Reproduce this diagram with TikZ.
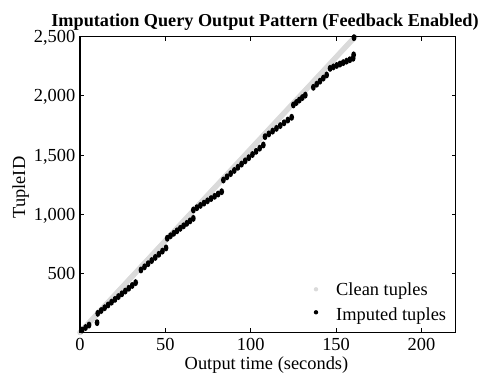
\documentclass[tikz,border=0pt]{standalone}
\usepackage{fontspec}
\setmainfont{Liberation Serif}
\definecolor{cleangray}{RGB}{218,218,218}
\begin{document}
\begin{tikzpicture}[x=1pt,y=1pt,
  lab/.style={font=\fontsize{18.4}{22}\selectfont,inner sep=0pt},
  num/.style={lab,text height=12.4pt,text depth=0pt},
  impdot/.style={fill=black}]
\useasboundingbox (0,0) rectangle (504,375);
\node[lab,font=\bfseries\fontsize{18.2}{22}\selectfont,anchor=base] (title) at (265,348.3) {Imputation Query Output Pattern (Feedback Enabled)};

\begin{scope}[shift={(80,42.5)},x=1.707pt,y=0.1184pt]
  % clean tuples (dense band)
  \foreach \t in {0,0.5,...,161}
    \fill[cleangray] (\t,{15.5*\t}) circle (2.8pt);
  % imputed tuples, one run per line: start t/y, end t/y, number of dots
  \foreach \ta/\ya/\tb/\yb/\n in {1.2/21/5.3/63/3, 10/83/10/83/1,
      10.4/162/32.6/421/12, 35.7/528/50.4/714/8, 51.1/796/66.4/964/9,
      66.4/1035/83/1189/9, 84/1288/107.4/1584/12, 108.4/1654/124/1818/8,
      125/1922/132/2005/5, 136.7/2071/144.5/2175/5, 146.5/2231/160/2316/8,
      160.3/2345/160.3/2345/1, 160.5/2490/160.5/2490/1}
    \foreach \k in {1,...,\n}{
      \pgfmathsetmacro\dotT{\ta+(\tb-\ta)*(\k-1)/max(\n-1,1)}
      \pgfmathsetmacro\dotY{\ya+(\yb-\ya)*(\k-1)/max(\n-1,1)}
      \fill[impdot] (\dotT,\dotY) ellipse[x radius=2.4pt,y radius=3.5pt];
    }
  % frame and ticks
  \draw[line width=1.2pt] (0,0) rectangle (220,2500);
  \foreach \x in {0,50,...,200}{
    \draw[line width=0.8pt] (\x,0) -- ++(0,4pt);
    \draw[line width=0.8pt] (\x,2500) -- ++(0,-4pt);
    \node[num,anchor=north] (xl\x) at (\x,-5.5pt) {\x};
  }
  \foreach \y/\lab in {500/500,1000/{1,000},1500/{1,500},2000/{2,000},2500/{2,500}}{
    \draw[line width=0.8pt] (0,\y) -- ++(4pt,0);
    \draw[line width=0.8pt] (220,\y) -- ++(-4pt,0);
    \node[num,anchor=east] (yl\y) at ([xshift=-4.5pt]0,\y) {\lab};
  }
\end{scope}

% axis titles
\node[lab,anchor=base] (xlab) at (266.5,5) {Output time (seconds)};
\node[lab,anchor=base,rotate=90] (ylab) at (25,187.5) {TupleID};

% legend
\fill[cleangray] (316,85.7) circle (2.2pt);
\node[lab,anchor=base west] (cleanlab) at (336,79) {Clean tuples};
\fill[black] (316,62.7) circle (2.2pt);
\node[lab,anchor=base west] (implab) at (336,54) {Imputed tuples};
\end{tikzpicture}
\end{document}
